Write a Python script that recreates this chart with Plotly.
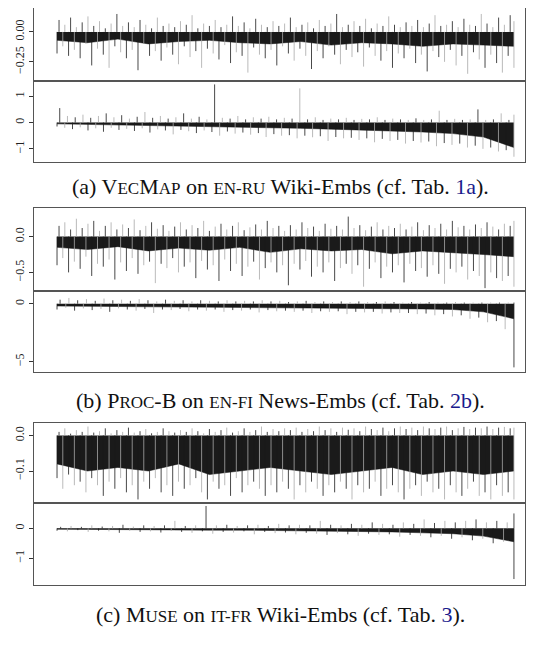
import plotly.graph_objects as go

# ---- values (spike extents per position, left to right) ----
a_top_neg = [-0.18,-0.12,-0.2,-0.15,-0.22,-0.1,-0.28,-0.14,-0.19,-0.3,-0.12,-0.17,-0.22,-0.15,-0.32,-0.1,-0.2,-0.16,-0.24,-0.13,
             -0.19,-0.27,-0.12,-0.21,-0.16,-0.3,-0.14,-0.18,-0.23,-0.11,-0.26,-0.17,-0.2,-0.34,-0.13,-0.19,-0.22,-0.15,-0.28,-0.12,
             -0.18,-0.24,-0.14,-0.2,-0.31,-0.16,-0.22,-0.12,-0.19,-0.27,-0.15,-0.21,-0.17,-0.29,-0.13,-0.2,-0.24,-0.16,-0.3,-0.18,
             -0.22,-0.14,-0.26,-0.19,-0.33,-0.16,-0.21,-0.25,-0.15,-0.28,-0.2,-0.35,-0.17,-0.23,-0.3,-0.19,-0.26,-0.34,-0.2,-0.3]
a_top_pos = [0.1,0.06,0.12,0.04,0.08,0.13,0.05,0.09,0.03,0.07,0.15,0.05,0.08,0.04,0.1,0.06,0.03,0.12,0.05,0.07,
             0.04,0.09,0.06,0.14,0.03,0.07,0.05,0.1,0.04,0.06,0.13,0.05,0.08,0.03,0.11,0.06,0.04,0.09,0.05,0.07,
             0.12,0.04,0.06,0.08,0.03,0.1,0.05,0.07,0.15,0.04,0.06,0.09,0.05,0.11,0.03,0.07,0.05,0.13,0.06,0.04,
             0.08,0.05,0.1,0.04,0.07,0.14,0.05,0.06,0.09,0.04,0.11,0.06,0.05,0.15,0.07,0.04,0.12,0.06,0.14,0.09]
a_top_core = [-0.07,-0.09,-0.06,-0.1,-0.08,-0.07,-0.09,-0.1,-0.08,-0.11,-0.09,-0.1,-0.12,-0.1,-0.11,-0.12]

a_bot_neg = [-0.15,-0.2,-0.25,-0.18,-0.3,-0.22,-0.35,-0.2,-0.28,-0.24,-0.32,-0.22,-0.38,-0.26,-0.3,-0.45,-0.28,-0.33,-0.4,-0.3,
             -0.36,-0.5,-0.34,-0.42,-0.38,-0.46,-0.4,-0.55,-0.44,-0.5,-0.48,-0.6,-0.5,-0.56,-0.52,-0.7,-0.55,-0.6,-0.58,-0.66,
             -0.6,-0.75,-0.62,-0.7,-0.66,-0.8,-0.7,-0.76,-0.72,-0.9,-0.78,-0.85,-0.8,-0.95,-0.88,-1.0,-0.95,-1.1,-1.05,-1.3]
a_bot_pos = [0.55,0.25,0.2,0.3,0.18,0.25,0.35,0.2,0.28,0.15,0.22,0.4,0.18,0.25,0.15,0.2,0.35,0.15,0.22,0.12,
             1.45,0.18,0.15,0.25,0.12,0.2,0.15,0.22,0.12,0.18,0.15,1.3,0.12,0.2,0.1,0.15,0.12,0.18,0.1,0.14,
             0.12,0.2,0.1,0.15,0.12,0.1,0.16,0.1,0.12,0.45,0.1,0.14,0.1,0.12,0.5,0.1,0.12,0.35,0.1,0.3]
a_bot_core = [-0.05,-0.07,-0.08,-0.1,-0.12,-0.14,-0.16,-0.19,-0.22,-0.25,-0.28,-0.32,-0.36,-0.42,-0.55,-0.95]

b_top_neg = [-0.4,-0.3,-0.5,-0.35,-0.45,-0.28,-0.55,-0.38,-0.42,-0.32,-0.6,-0.36,-0.48,-0.3,-0.52,-0.4,-0.35,-0.65,-0.38,-0.44,
             -0.3,-0.5,-0.42,-0.36,-0.58,-0.34,-0.46,-0.4,-0.62,-0.32,-0.48,-0.38,-0.55,-0.42,-0.35,-0.6,-0.44,-0.36,-0.5,-0.4,
             -0.68,-0.38,-0.46,-0.34,-0.56,-0.42,-0.5,-0.36,-0.62,-0.44,-0.38,-0.52,-0.4,-0.7,-0.45,-0.36,-0.58,-0.42,-0.5,-0.4,
             -0.64,-0.38,-0.48,-0.44,-0.56,-0.4,-0.52,-0.66,-0.45,-0.5,-0.42,-0.6,-0.48,-0.55,-0.72,-0.5,-0.58,-0.62,-0.55,-0.7]
b_top_pos = [0.15,0.2,0.1,0.25,0.12,0.18,0.22,0.08,0.15,0.2,0.1,0.17,0.12,0.24,0.09,0.15,0.2,0.11,0.16,0.08,
             0.14,0.2,0.1,0.16,0.12,0.22,0.08,0.14,0.18,0.1,0.15,0.2,0.09,0.13,0.17,0.1,0.22,0.12,0.15,0.08,
             0.16,0.1,0.2,0.12,0.14,0.08,0.18,0.11,0.15,0.1,0.28,0.12,0.16,0.09,0.14,0.2,0.1,0.15,0.12,0.18,
             0.1,0.14,0.2,0.09,0.16,0.12,0.18,0.1,0.22,0.13,0.15,0.1,0.17,0.12,0.2,0.14,0.1,0.18,0.15,0.22]
b_top_core = [-0.15,-0.18,-0.14,-0.2,-0.16,-0.19,-0.15,-0.22,-0.17,-0.2,-0.18,-0.24,-0.2,-0.22,-0.25,-0.28]

b_bot_neg = [-0.5,-0.35,-0.6,-0.4,-0.55,-0.45,-0.7,-0.4,-0.5,-0.6,-0.45,-0.8,-0.5,-0.55,-0.45,-0.65,-0.5,-0.6,-0.5,-0.7,
             -0.55,-0.6,-0.5,-0.75,-0.55,-0.65,-0.6,-0.7,-0.6,-0.8,-0.65,-0.7,-0.65,-0.9,-0.7,-0.75,-0.7,-0.85,-0.75,-0.8,
             -0.8,-0.9,-0.85,-1.0,-0.9,-1.1,-1.0,-1.3,-1.2,-1.6,-1.5,-2.2,-5.5]
b_bot_pos = [0.35,0.5,0.3,0.4,0.25,0.45,0.3,0.35,0.25,0.4,0.3,0.2,0.35,0.25,0.3,0.2,0.3,0.25,0.2,0.3,
             0.2,0.25,0.2,0.3,0.2,0.25,0.15,0.2,0.25,0.15,0.2,0.15,0.2,0.15,0.2,0.15,0.15,0.2,0.15,0.1,
             0.15,0.1,0.15,0.1,0.1,0.15,0.1,0.1,0.1,0.1,0.1,0.1,0.1]
b_bot_core = [-0.2,-0.22,-0.22,-0.24,-0.25,-0.26,-0.28,-0.3,-0.32,-0.34,-0.36,-0.4,-0.45,-0.5,-0.7,-1.3]

c_top_neg = [-0.12,-0.15,-0.11,-0.14,-0.13,-0.16,-0.12,-0.14,-0.17,-0.13,-0.15,-0.12,-0.16,-0.14,-0.18,-0.13,-0.15,-0.12,-0.16,-0.14,
             -0.17,-0.13,-0.15,-0.14,-0.12,-0.16,-0.18,-0.13,-0.15,-0.14,-0.17,-0.12,-0.16,-0.14,-0.13,-0.15,-0.17,-0.14,-0.16,-0.13,
             -0.15,-0.18,-0.14,-0.16,-0.13,-0.15,-0.17,-0.14,-0.16,-0.13,-0.15,-0.18,-0.14,-0.16,-0.15,-0.13,-0.17,-0.15,-0.14,-0.16,
             -0.18,-0.15,-0.14,-0.17,-0.13,-0.16,-0.15,-0.18,-0.14,-0.16,-0.17,-0.15,-0.13,-0.17,-0.16,-0.18,-0.14,-0.17,-0.16,-0.18]
c_top_pos = [0.01,0.02,0.005,0.015,0.01,0.025,0.008,0.012,0.02,0.006,0.015,0.01,0.022,0.008,0.012,0.018,0.006,0.01,0.02,0.012,
             0.008,0.015,0.01,0.02,0.012,0.006,0.018,0.01,0.015,0.022,0.008,0.012,0.02,0.01,0.015,0.025,0.01,0.018,0.012,0.02,
             0.015,0.022,0.01,0.018,0.012,0.025,0.015,0.02,0.01,0.022,0.016,0.02,0.012,0.025,0.018,0.015,0.022,0.012,0.02,0.025,
             0.018,0.022,0.015,0.025,0.02,0.018,0.022,0.025,0.015,0.02,0.024,0.018,0.022,0.02,0.025,0.018,0.022,0.024,0.02,0.022]
c_top_core = [-0.08,-0.1,-0.09,-0.1,-0.08,-0.11,-0.1,-0.09,-0.1,-0.11,-0.1,-0.09,-0.11,-0.1,-0.11,-0.1]

c_bot_neg = [-0.08,-0.1,-0.06,-0.12,-0.08,-0.1,-0.15,-0.08,-0.12,-0.1,-0.14,-0.09,-0.12,-0.15,-0.1,-0.18,-0.12,-0.14,-0.1,-0.2,
             -0.12,-0.16,-0.14,-0.2,-0.15,-0.18,-0.22,-0.16,-0.2,-0.25,-0.18,-0.22,-0.2,-0.28,-0.22,-0.25,-0.3,-0.25,-0.35,-0.3,
             -0.4,-0.35,-0.5,-0.45,-1.7]
c_bot_pos = [0.05,0.08,0.05,0.1,0.06,0.08,0.12,0.06,0.1,0.08,0.1,0.25,0.08,0.1,0.75,0.1,0.12,0.08,0.1,0.12,
             0.08,0.15,0.1,0.12,0.1,0.25,0.12,0.1,0.15,0.12,0.2,0.15,0.12,0.2,0.15,0.3,0.18,0.25,0.2,0.25,
             0.3,0.2,0.25,0.2,0.5]
c_bot_core = [-0.03,-0.04,-0.04,-0.05,-0.05,-0.06,-0.06,-0.07,-0.08,-0.09,-0.1,-0.12,-0.15,-0.18,-0.26,-0.45]

H = 654.0


def dom(top_px, bot_px):
    return [max(0.0, 1 - bot_px / H), min(1.0, 1 - top_px / H)]


panels = [
    # (neg, pos, core, y range, tick values, tick labels, y domain in px)
    (a_top_neg, a_top_pos, a_top_core, [-0.41, 0.2], [0.0, -0.25], ["0.00", "\u22120.25"], dom(0, 73)),
    (a_bot_neg, a_bot_pos, a_bot_core, [-1.5, 1.58], [1, 0, -1], ["1", "0", "\u22121"], dom(73, 154)),
    (b_top_neg, b_top_pos, b_top_core, [-0.76, 0.4], [0.0, -0.5], ["0.0", "\u22120.5"], dom(200, 283)),
    (b_bot_neg, b_bot_pos, b_bot_core, [-5.9, 1.1], [0, -5], ["0", "\u22125"], dom(283, 364)),
    (c_top_neg, c_top_pos, c_top_core, [-0.19, 0.035], [0.0, -0.1], ["0.0", "\u22120.1"], dom(415, 495)),
    (c_bot_neg, c_bot_pos, c_bot_core, [-1.9, 0.85], [0, -1], ["0", "\u22121"], dom(495, 577)),
]

fig = go.Figure()
layout = {}
for i, (neg, pos, core, yr, tv, tt, ydom) in enumerate(panels):
    n = i + 1
    xa = "x" if n == 1 else f"x{n}"
    ya = "y" if n == 1 else f"y{n}"

    # dense core as filled band
    cx = [k / (len(core) - 1) for k in range(len(core))]
    fig.add_trace(go.Scatter(x=cx, y=core, mode="lines", line=dict(color="#111", width=0.5),
                             fill="tozeroy", fillcolor="#1a1a1a", xaxis=xa, yaxis=ya, hoverinfo="skip"))
    # spikes
    for vals, shift in ((neg, 0.0), (pos, 0.35)):
        m = len(vals)
        for colour, parity in (("#a8a8a8", 1), ("#1a1a1a", 0)):
            xs, ys = [], []
            for k, v in enumerate(vals):
                if k % 2 != parity:
                    continue
                x = min((k + shift) / (m - 1), 1.0)
                xs += [x, x, None]
                ys += [0, v, None]
            fig.add_trace(go.Scatter(x=xs, y=ys, mode="lines", line=dict(color=colour, width=0.8),
                                     xaxis=xa, yaxis=ya, hoverinfo="skip"))

    key = "" if n == 1 else str(n)
    layout["xaxis" + key] = dict(domain=[0.049, 0.968], range=[-0.05, 1.024], showticklabels=False,
                                 showgrid=False, zeroline=False, showline=True, mirror=True,
                                 linecolor="#555", linewidth=1, anchor=ya, ticks="")
    layout["yaxis" + key] = dict(domain=ydom, range=yr, tickvals=tv, ticktext=tt, tickangle=-90,
                                 showgrid=False, zeroline=False, showline=True, mirror=True,
                                 linecolor="#555", linewidth=1, anchor=xa, ticks="outside",
                                 ticklen=4, tickcolor="#333",
                                 tickfont=dict(family="Liberation Serif", size=12, color="#222"))

fig.update_layout(**layout)

sc = "font-size:17px"
captions = [
    (178, f"(a) V<span style='{sc}'>EC</span>M<span style='{sc}'>AP</span> on <span style='{sc}'>EN-RU</span> Wiki-Embs (cf. Tab. <span style='color:#1a1a8c'>1a</span>)."),
    (393, f"(b) P<span style='{sc}'>ROC</span>-B on <span style='{sc}'>EN-FI</span> News-Embs (cf. Tab. <span style='color:#1a1a8c'>2b</span>)."),
    (606, f"(c) M<span style='{sc}'>USE</span> on <span style='{sc}'>IT-FR</span> Wiki-Embs (cf. Tab. <span style='color:#1a1a8c'>3</span>)."),
]
for ypx, txt in captions:
    fig.add_annotation(x=0.51, y=1 - ypx / H, xref="paper", yref="paper", text=txt, showarrow=False,
                       font=dict(family="Liberation Serif", size=22, color="#111"), xanchor="center", yanchor="middle")

fig.update_layout(width=534, height=654, margin=dict(l=0, r=0, t=0, b=0), showlegend=False,
                  plot_bgcolor="white", paper_bgcolor="white")
fig.write_html("out.html")
